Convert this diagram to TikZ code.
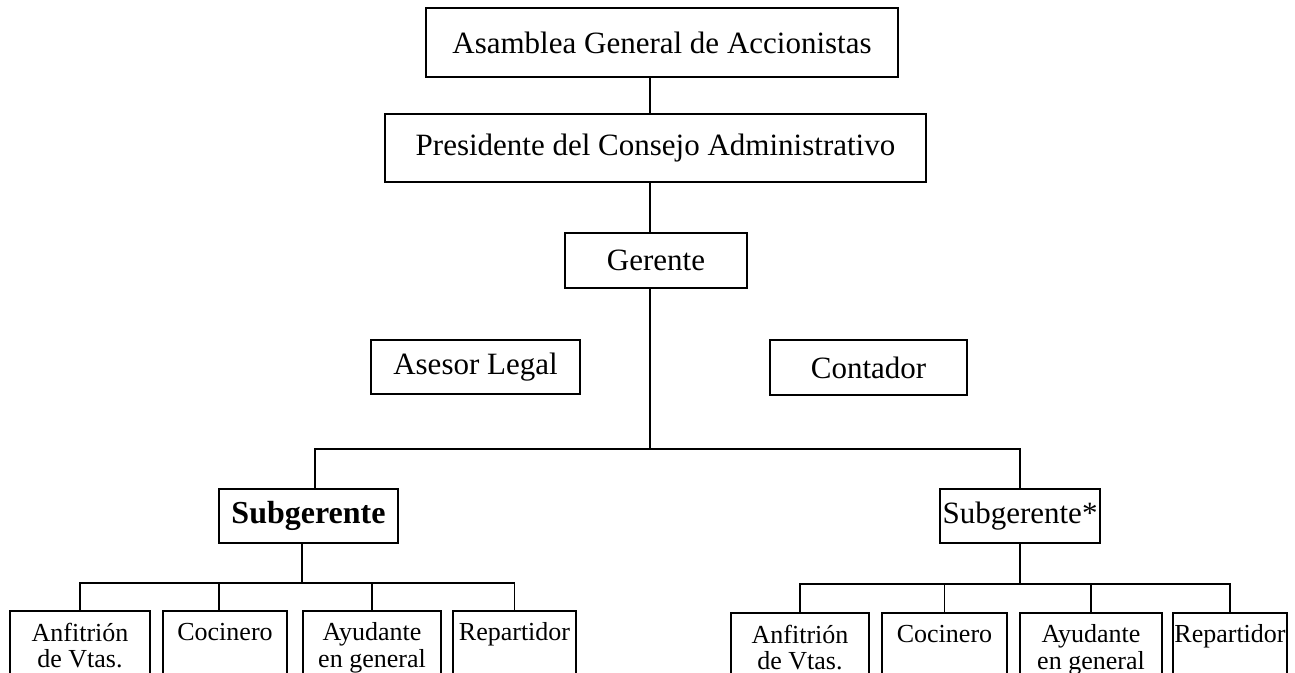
\documentclass[tikz,border=0pt]{standalone}
\usepackage{fontspec}
\setmainfont{Liberation Serif}
\newcommand{\celda}[2]{\parbox[c][70pt][t]{#1}{\centering\strut #2}}
\tikzset{
	caja/.style={draw, line width=1.6pt, inner sep=0pt, font=\fontsize{31}{36}\selectfont},
	cajita/.style={draw, line width=1.6pt, inner xsep=0pt, inner ysep=12pt, anchor=north, font=\fontsize{26}{25}\selectfont},
	linea/.style={line width=1.4pt}
}

\begin{document}
\begin{tikzpicture}[x=1pt,y=-1pt]
	\useasboundingbox (0,0) rectangle (1295,672);

	%upper boxes
	\node[caja, minimum width=472pt, minimum height=69pt] (asamblea) at (662,42.5) {Asamblea General de Accionistas};
	\node[caja, minimum width=541pt, minimum height=68pt] (presidente) at (655.5,148) {Presidente del Consejo Administrativo};
	\node[caja, minimum width=182pt, minimum height=55pt] (gerente) at (656,260.5) {Gerente};
	\node[caja, minimum width=209pt, minimum height=54pt] (asesor) at (475.5,367) {Asesor Legal};
	\node[caja, minimum width=197pt, minimum height=55pt] (contador) at (868.5,367.5) {Contador};

	%subgerentes
	\node[caja, font=\fontsize{32}{36}\selectfont\bfseries, minimum width=179pt, minimum height=54pt] (subA) at (308.5,516) {Subgerente};
	\node[caja, minimum width=160pt, minimum height=54pt] (subB) at (1020,516) {Subgerente*};

	%lower boxes - left
	\node[cajita] (anfA) at (80,610)    {\celda{140pt}{Anfitrión\\de Vtas.}};
	\node[cajita] (cocA) at (225,610)   {\celda{124pt}{Cocinero}};
	\node[cajita] (ayuA) at (372,610)   {\celda{138pt}{Ayudante\\en general}};
	\node[cajita] (repA) at (514.5,610) {\celda{123pt}{Repartidor}};
	%lower boxes - right
	\node[cajita] (anfB) at (800,612)   {\celda{138pt}{Anfitrión\\de Vtas.}};
	\node[cajita] (cocB) at (944.5,612) {\celda{125pt}{Cocinero}};
	\node[cajita] (ayuB) at (1091,612)  {\celda{142pt}{Ayudante\\en general}};
	\node[cajita] (repB) at (1230,612)  {\celda{114pt}{Repartidor}};

	%junctions
	\coordinate (tronco) at (650,449);
	\coordinate (ramaA) at (315,449);
	\coordinate (nodoA) at (302,583);
	\coordinate (nodoB) at (1020,584);

	%lines
	\draw[linea] (asamblea.south -| tronco) -- (presidente.north -| tronco);
	\draw[linea] (presidente.south -| tronco) -- (gerente.north -| tronco);
	\draw[linea] (gerente.south -| tronco) -- (tronco);
	\draw[linea] (subA.north -| ramaA) |- (tronco) -| (subB.north);
	%
	\draw[linea] (subA.south -| nodoA) -- (nodoA);
	\draw[linea] (anfA.north) |- (nodoA) -| (repA.north);
	\draw[linea] (cocA.north -| 219,0) -- (nodoA -| 219,0);
	\draw[linea] (ayuA.north) -- (ayuA.north |- nodoA);
	%
	\draw[linea] (subB.south) -- (nodoB);
	\draw[linea] (anfB.north) |- (nodoB) -| (repB.north);
	\draw[linea] (cocB.north) -- (cocB.north |- nodoB);
	\draw[linea] (ayuB.north) -- (ayuB.north |- nodoB);
\end{tikzpicture}
\end{document}
